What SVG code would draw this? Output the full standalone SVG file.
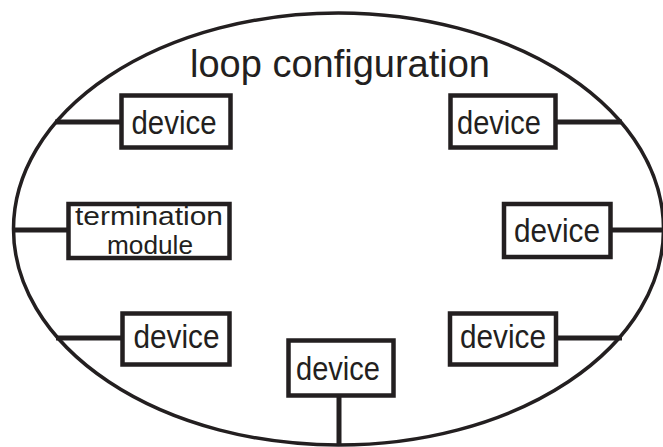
<svg xmlns="http://www.w3.org/2000/svg" width="663" height="447" viewBox="0 0 663 447">
<style>
.box{fill:#fff;stroke:#231f20;stroke-width:4.5}
.conn{stroke:#231f20;stroke-width:5;fill:none}
.loop{fill:#fff;stroke:#231f20;stroke-width:3.5}
text{font-family:"Liberation Sans",Arial,sans-serif;fill:#231f20;text-anchor:middle}
.dev{font-size:34px}
.term{font-size:26px}
.title{font-size:38px}
</style>
<rect width="663" height="447" fill="#fff"/>
<g id="loop">
<ellipse class="loop" cx="338.5" cy="229" rx="325" ry="216"/>
<text class="title" x="340" y="77">loop configuration</text>
</g>
<g id="connectors">
<line class="conn" x1="55" y1="122" x2="121.5" y2="122"/>
<line class="conn" x1="12" y1="230" x2="68.5" y2="230"/>
<line class="conn" x1="56" y1="338" x2="122.5" y2="338"/>
<line class="conn" x1="339" y1="395.5" x2="339" y2="446"/>
<line class="conn" x1="556" y1="338" x2="622" y2="338"/>
<line class="conn" x1="610.5" y1="230" x2="663" y2="230"/>
<line class="conn" x1="555.5" y1="122" x2="622" y2="122"/>
</g>
<g id="device-tl">
<rect class="box" x="121.5" y="95.5" width="109" height="52"/>
<text class="dev" x="174" y="134" textLength="85" lengthAdjust="spacingAndGlyphs">device</text>
</g>
<g id="termination">
<rect class="box" x="68.5" y="204" width="161" height="54"/>
<text class="term" x="149" y="225" textLength="148" lengthAdjust="spacingAndGlyphs">termination</text>
<text class="term" x="150" y="253.5" textLength="86" lengthAdjust="spacingAndGlyphs">module</text>
</g>
<g id="device-bl">
<rect class="box" x="122.5" y="313.5" width="107" height="51"/>
<text class="dev" x="176.5" y="348" textLength="86" lengthAdjust="spacingAndGlyphs">device</text>
</g>
<g id="device-bottom">
<rect class="box" x="288.5" y="340.5" width="105" height="55"/>
<text class="dev" x="338" y="380" textLength="84" lengthAdjust="spacingAndGlyphs">device</text>
</g>
<g id="device-br">
<rect class="box" x="450" y="313.5" width="106" height="51"/>
<text class="dev" x="503" y="348" textLength="86" lengthAdjust="spacingAndGlyphs">device</text>
</g>
<g id="device-rm">
<rect class="box" x="504" y="204" width="106.5" height="53"/>
<text class="dev" x="557" y="242" textLength="86" lengthAdjust="spacingAndGlyphs">device</text>
</g>
<g id="device-tr">
<rect class="box" x="450.5" y="95.5" width="105" height="52"/>
<text class="dev" x="499" y="134" textLength="84" lengthAdjust="spacingAndGlyphs">device</text>
</g>
</svg>
